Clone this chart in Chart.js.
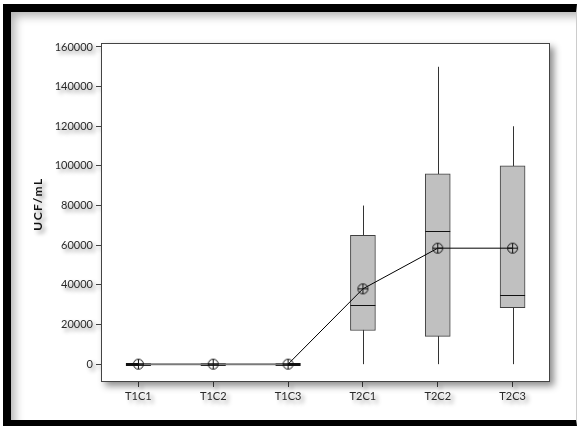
<!DOCTYPE html>
<html>
<head>
<meta charset="utf-8">
<script src="https://cdn.jsdelivr.net/npm/chart.js@4/dist/chart.umd.min.js"></script>
<style>
  body { margin: 0; background: #fff; }
  #wrap { position: relative; width: 578px; height: 426px; overflow: hidden; }
  #frame {
    position: absolute; left: 3px; top: 4px; width: 574px; height: 422px;
    box-sizing: border-box;
    border-left: 8px solid #000; border-top: 8px solid #000;
    border-bottom: 6px solid #000; border-right: 1px solid #ccc;
    box-shadow: inset 7px 7px 10px -3px rgba(0,0,0,0.3);
    pointer-events: none;
  }
</style>
</head>
<body>
<div id="wrap">
  <canvas id="chart" width="578" height="426"></canvas>
  <div id="frame"></div>
</div>
<script>
const groups = ["T1C1", "T1C2", "T1C3", "T2C1", "T2C2", "T2C3"];
const mins = [0, 0, 0, 0, 0, 0];
const q1s = [0, 0, 0, 17000, 14000, 28500];
const medians = [0, 0, 0, 30000, 67000, 35000];
const q3s = [0, 0, 0, 65000, 96000, 100000];
const maxs = [0, 0, 0, 80000, 150000, 120000];
const means = [0, 0, 0, 38000, 58500, 58500];
const yTicks = [0, 20000, 40000, 60000, 80000, 100000, 120000, 140000, 160000];
const yTitle = "UCF/mL";

// circle with a plus inside, used as the mean marker
function makeMarker() {
  const c = document.createElement("canvas");
  c.width = 13; c.height = 13;
  const g = c.getContext("2d");
  g.strokeStyle = "#111";
  g.lineWidth = 1;
  g.beginPath();
  g.arc(6.5, 6.5, 5, 0, Math.PI * 2);
  g.stroke();
  g.beginPath();
  g.moveTo(1.5, 6.5); g.lineTo(11.5, 6.5);
  g.moveTo(6.5, 1.5); g.lineTo(6.5, 11.5);
  g.stroke();
  return c;
}

function setShadow(ctx, off, blur) {
  ctx.shadowColor = "rgba(0,0,0,0.45)";
  ctx.shadowBlur = blur;
  ctx.shadowOffsetX = off;
  ctx.shadowOffsetY = off;
}

const boxPlot = {
  id: "boxPlot",
  beforeDraw(chart) {
    const ctx = chart.ctx;
    ctx.save();
    setShadow(ctx, 3, 4);
  },
  beforeDatasetsDraw(chart) {
    const ctx = chart.ctx;
    ctx.restore();
    const a = chart.chartArea;
    // y title, rotated
    ctx.save();
    setShadow(ctx, 3, 4);
    ctx.translate(38, 204);
    ctx.rotate(-Math.PI / 2);
    ctx.font = "bold 12px Lato";
    ctx.letterSpacing = "1.5px";
    ctx.fillStyle = "#111";
    ctx.textAlign = "center";
    ctx.textBaseline = "middle";
    ctx.fillText(yTitle, 0, 0);
    ctx.restore();
    // plot box with soft shadow
    ctx.save();
    setShadow(ctx, 4, 7);
    ctx.fillStyle = "#fff";
    ctx.fillRect(a.left, a.top, a.right - a.left, a.bottom - a.top);
    ctx.restore();
    ctx.save();
    ctx.strokeStyle = "#444";
    ctx.lineWidth = 1;
    ctx.strokeRect(a.left + 0.5, a.top + 0.5, a.right - a.left - 1, a.bottom - a.top - 1);
    // whiskers
    const x = chart.scales.x, y = chart.scales.y;
    ctx.strokeStyle = "#333";
    groups.forEach((g, i) => {
      if (maxs[i] === mins[i]) return;
      const px = Math.round(x.getPixelForValue(i)) + 0.5;
      ctx.beginPath();
      ctx.moveTo(px, y.getPixelForValue(mins[i]));
      ctx.lineTo(px, y.getPixelForValue(maxs[i]));
      ctx.stroke();
    });
    ctx.restore();
  },
  afterDatasetDraw(chart, args) {
    if (args.index !== 0) return;
    const ctx = chart.ctx;
    const x = chart.scales.x, y = chart.scales.y;
    ctx.save();
    ctx.strokeStyle = "#111";
    groups.forEach((g, i) => {
      const px = x.getPixelForValue(i);
      const py = Math.round(y.getPixelForValue(medians[i])) + 0.5;
      ctx.lineWidth = q3s[i] === q1s[i] ? 3 : 1;
      ctx.beginPath();
      ctx.moveTo(px - 12.5, py);
      ctx.lineTo(px + 12.5, py);
      ctx.stroke();
    });
    ctx.restore();
  }
};

const tickFont = { family: "Lato", size: 11 };

new Chart(document.getElementById("chart"), {
  type: "bar",
  data: {
    labels: groups,
    datasets: [
      {
        type: "bar",
        data: q1s.map((v, i) => [v, q3s[i]]),
        backgroundColor: "#c0c0c0",
        borderColor: "#404040",
        borderWidth: 1,
        borderSkipped: false,
        barThickness: 25,
        grouped: false,
        order: 2
      },
      {
        type: "line",
        data: means,
        borderColor: "#000",
        borderWidth: 1,
        pointStyle: makeMarker(),
        pointRadius: 6,
        segment: {
          borderColor: c => (c.p0.parsed.y === 0 && c.p1.parsed.y === 0 ? "#7a7a7a" : "#000"),
          borderWidth: c => (c.p0.parsed.y === 0 && c.p1.parsed.y === 0 ? 2 : 1)
        },
        order: 1
      }
    ]
  },
  plugins: [boxPlot],
  options: {
    responsive: false,
    devicePixelRatio: 1,
    animation: false,
    layout: { padding: { left: 0, top: 43, right: 28, bottom: 0 } },
    plugins: { legend: { display: false }, tooltip: { enabled: false } },
    scales: {
      x: {
        offset: true,
        grid: { offset: false, drawOnChartArea: false, drawTicks: true, tickLength: 5, color: "#444" },
        border: { display: false },
        ticks: { font: tickFont, color: "#2a2a2a", padding: 3, maxRotation: 0 },
        afterFit(scale) { scale.height = 44; }
      },
      y: {
        min: -9000,
        max: 162000,
        grid: { drawOnChartArea: false, drawTicks: true, tickLength: 5, color: "#444" },
        border: { display: false },
        afterBuildTicks(scale) { scale.ticks = yTicks.map(v => ({ value: v })); },
        ticks: { font: tickFont, color: "#2a2a2a", padding: 3, callback: v => String(v) },
        afterFit(scale) { scale.width = 101; }
      }
    }
  }
});
</script>
</body>
</html>
